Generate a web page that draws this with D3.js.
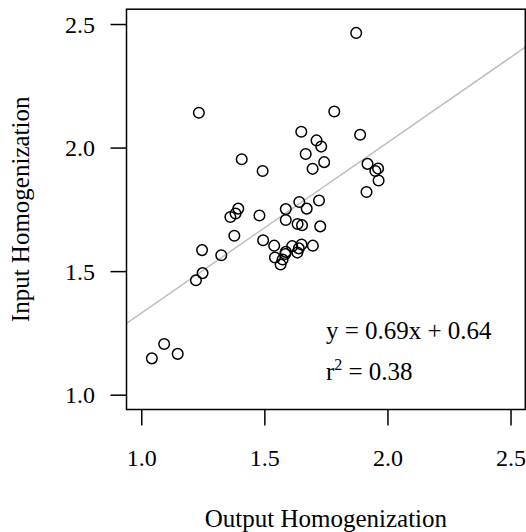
<!DOCTYPE html>
<html>
<head>
<meta charset="utf-8">
<script src="https://cdn.jsdelivr.net/npm/d3@7"></script>
<style>
  body { margin: 0; background: #fff; }
  svg { display: block; }
  text { font-family: "Liberation Serif", "Times New Roman", serif; fill: #000; }
</style>
</head>
<body>
<div id="chart"></div>
<script>
// values
const outputHomog = [1.873, 1.234, 1.784, 1.650, 1.889, 1.712, 1.731, 1.668, 1.408, 1.743,
  1.919, 1.696, 1.493, 1.962, 1.951, 1.964, 1.915, 1.722, 1.642, 1.587,
  1.672, 1.394, 1.383, 1.362, 1.480, 1.587, 1.635, 1.653, 1.727, 1.378,
  1.495, 1.247, 1.325, 1.540, 1.697, 1.651, 1.640, 1.613, 1.634, 1.587,
  1.585, 1.543, 1.574, 1.566, 1.249, 1.222, 1.093, 1.043, 1.148];
const inputHomog = [2.464, 2.141, 2.146, 2.064, 2.052, 2.029, 2.004, 1.974, 1.953, 1.941,
  1.934, 1.914, 1.905, 1.915, 1.905, 1.867, 1.820, 1.786, 1.780, 1.751,
  1.753, 1.753, 1.733, 1.719, 1.725, 1.707, 1.691, 1.686, 1.681, 1.643,
  1.625, 1.585, 1.564, 1.603, 1.603, 1.608, 1.592, 1.601, 1.575, 1.578,
  1.569, 1.555, 1.547, 1.527, 1.492, 1.463, 1.205, 1.147, 1.165];
const xTicks = [1.0, 1.5, 2.0, 2.5];
const yTicks = [1.0, 1.5, 2.0, 2.5];
const fitSlope = 0.69;
const fitIntercept = 0.64;
const fitR2 = 0.38;

const width = 526, height = 532;
const tickFont = 24;
const labelFont = 25;

const x = d3.scaleLinear().domain([0.94, 2.56]).range([126.5, 525.3]);
const y = d3.scaleLinear().domain([0.94, 2.56]).range([409.5, 9.2]);

const svg = d3.select("#chart").append("svg")
  .attr("width", width)
  .attr("height", height);

svg.append("defs").append("clipPath")
  .attr("id", "plotClip")
  .append("rect")
  .attr("x", x.range()[0])
  .attr("y", y.range()[1])
  .attr("width", x.range()[1] - x.range()[0])
  .attr("height", y.range()[0] - y.range()[1]);

// fitted line, clipped to the plot region like abline
const xd = x.domain();
svg.append("line")
  .attr("clip-path", "url(#plotClip)")
  .attr("x1", x(xd[0])).attr("y1", y(fitIntercept + fitSlope * xd[0]))
  .attr("x2", x(xd[1])).attr("y2", y(fitIntercept + fitSlope * xd[1]))
  .attr("stroke", "#bebebe")
  .attr("stroke-width", 1.5);

const pts = outputHomog.map((v, i) => ({ o: v, inp: inputHomog[i] }));
svg.append("g").selectAll("circle")
  .data(pts)
  .enter().append("circle")
  .attr("cx", d => x(d.o))
  .attr("cy", d => y(d.inp))
  .attr("r", 5.3)
  .attr("fill", "none")
  .attr("stroke", "#000")
  .attr("stroke-width", 1.5);

// box
svg.append("rect")
  .attr("x", x.range()[0])
  .attr("y", y.range()[1])
  .attr("width", x.range()[1] - x.range()[0])
  .attr("height", y.range()[0] - y.range()[1])
  .attr("fill", "none")
  .attr("stroke", "#000")
  .attr("stroke-width", 1.5);

const xAxis = svg.append("g")
  .attr("transform", `translate(0,${y.range()[0]})`)
  .call(d3.axisBottom(x).tickValues(xTicks).tickFormat(d3.format(".1f")).tickSize(16).tickSizeOuter(0));
xAxis.select(".domain").remove();
xAxis.selectAll(".tick line").attr("stroke-width", 1.5);
xAxis.selectAll(".tick text")
  .attr("y", 56.5).attr("dy", 0)
  .style("font-size", tickFont + "px")
  .style("font-family", "'Liberation Serif', serif");

const yAxis = svg.append("g")
  .attr("transform", `translate(${x.range()[0]},0)`)
  .call(d3.axisLeft(y).tickValues(yTicks).tickFormat(d3.format(".1f")).tickSize(16).tickSizeOuter(0));
yAxis.select(".domain").remove();
yAxis.selectAll(".tick line").attr("stroke-width", 1.5);
yAxis.selectAll(".tick text")
  .attr("x", -31.5).attr("dy", "0.34em")
  .style("font-size", tickFont + "px")
  .style("font-family", "'Liberation Serif', serif");

const cx = (x.range()[0] + x.range()[1]) / 2;
const cy = (y.range()[0] + y.range()[1]) / 2;

svg.append("text")
  .attr("x", cx).attr("y", 527)
  .attr("text-anchor", "middle")
  .style("font-size", labelFont + "px")
  .text("Output Homogenization");

svg.append("text")
  .attr("transform", `translate(29,${cy}) rotate(-90)`)
  .attr("text-anchor", "middle")
  .style("font-size", labelFont + "px")
  .text("Input Homogenization");

// fit annotation
svg.append("text")
  .attr("x", x(1.75)).attr("y", 339.3)
  .style("font-size", labelFont + "px")
  .text(`y = ${fitSlope}x + ${fitIntercept}`);

const r2 = svg.append("text")
  .attr("x", x(1.75)).attr("y", 380.3)
  .style("font-size", labelFont + "px");
r2.append("tspan").text("r");
r2.append("tspan").attr("dy", -10).style("font-size", "16px").text("2");
r2.append("tspan").attr("dy", 10).text(` = ${fitR2}`);
</script>
</body>
</html>
